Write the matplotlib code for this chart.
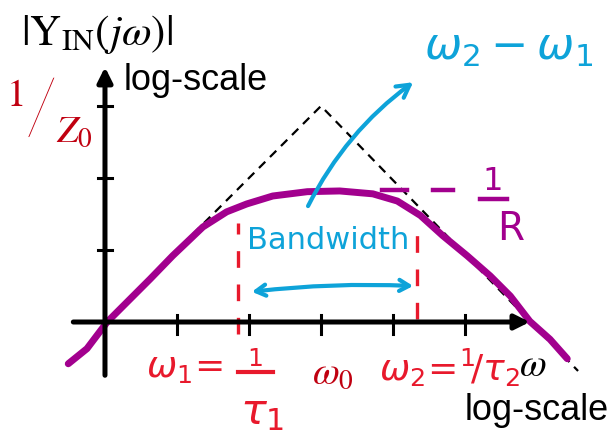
import matplotlib
matplotlib.use("Agg")
from matplotlib import pyplot as plt

# magnitude of the input admittance, log-log, one tick = one unit
curve_x = [-0.51, -0.25, 0.03, 0.31, 0.63, 0.94, 1.14, 1.36, 1.69, 1.97, 2.33,
           2.81, 3.26, 3.72, 4.06, 4.38, 4.69, 5.03, 5.35, 5.63, 5.90, 6.18, 6.42]
curve_y = [-0.58, -0.37, 0.0, 0.28, 0.60, 0.92, 1.11, 1.32, 1.53, 1.64, 1.75,
           1.81, 1.82, 1.78, 1.68, 1.48, 1.20, 0.92, 0.64, 0.36, 0.01, -0.24, -0.51]

# asymptotes meeting at w0, 1/Z0
asym_x = [0, 3, 6.57]
asym_y = [0, 3, -0.68]

x_ticks = [1, 2, 3, 4, 5]
y_ticks = [1, 2, 3]

w1 = 1.85
w2 = 4.33
inv_R = 1.83

purple = '#a2008e'
blue = '#0ea3d9'
red = '#e8192c'
dark_red = '#c00010'

hand = dict(math_fontfamily='dejavusans', ha='center', va='center')
typeset = dict(math_fontfamily='stix', family='STIXGeneral', ha='center',
               va='center')
sans = dict(family='Liberation Sans', ha='center', va='center')

fig = plt.figure(figsize=(6.16, 4.39), dpi=100)
ax = fig.add_axes([0, 0, 1, 1])
ax.set_xlim(-1.458, 7.097)
ax.set_ylim(-1.611, 4.486)
ax.axis('off')

# axes with arrow heads
ax.annotate('', xy=(5.9, 0), xytext=(-0.44, 0),
            arrowprops=dict(arrowstyle='-|>', lw=3.6, color='black',
                            mutation_scale=22, shrinkA=0, shrinkB=0))
ax.annotate('', xy=(0, 3.54), xytext=(0, -0.74),
            arrowprops=dict(arrowstyle='-|>', lw=3.6, color='black',
                            mutation_scale=22, shrinkA=0, shrinkB=0))
for t in x_ticks:
    ax.plot([t, t], [-0.17, 0.1], color='black', lw=2.2)
for t in y_ticks:
    ax.plot([-0.1, 0.1], [t, t], color='black', lw=2.2)

ax.plot(asym_x, asym_y, color='black', lw=1.6, linestyle=(0, (4, 3)))
ax.plot(curve_x, curve_y, color=purple, lw=5, solid_capstyle='round',
        solid_joinstyle='round')

# band edges
for w, top, bot in [(w1, 1.38, -0.17), (w2, 1.32, 0.04)]:
    ax.plot([w, w], [bot, top], color=red, lw=2.4, linestyle=(0, (5, 5)))

# 1/R level
ax.plot([3.85, 4.19], [inv_R, inv_R], color=purple, lw=3.2)
ax.plot([4.56, 4.83], [inv_R, inv_R], color=purple, lw=3.2)
ax.text(5.38, 1.97, '1', color=purple, fontsize=23, **hand)
ax.plot([5.21, 5.58], [1.71, 1.71], color=purple, lw=3.2)
ax.text(5.63, 1.30, 'R', color=purple, fontsize=28, **hand)

# bandwidth arrows
ax.annotate('', xy=(2.04, 0.42), xytext=(4.28, 0.50),
            arrowprops=dict(arrowstyle='<->,head_length=0.7,head_width=0.4',
                            lw=3, color=blue, shrinkA=0, shrinkB=0,
                            connectionstyle='arc3,rad=0.04'))
ax.annotate('', xy=(4.28, 3.33), xytext=(2.82, 1.61),
            arrowprops=dict(arrowstyle='->,head_length=0.9,head_width=0.5',
                            lw=3, color=blue, shrinkA=0, shrinkB=0,
                            connectionstyle='arc3,rad=-0.12'))
ax.text(3.1, 1.15, 'Bandwidth', color=blue, fontsize=22, **hand)
ax.text(5.6, 3.82, r'$\omega_2 - \omega_1$', color=blue, fontsize=32, **hand)

# frequency labels
ax.text(1.1, -0.63, r'$\omega_1\!=$', color=red, fontsize=26, **hand)
ax.text(2.08, -0.5, '1', color=red, fontsize=18, **hand)
ax.plot([1.85, 2.33], [-0.69, -0.69], color=red, lw=3)
ax.text(2.18, -1.24, r'$\tau_1$', color=red, fontsize=31, **hand)
ax.text(3.17, -0.72, r'$\omega_0$', color=dark_red, fontsize=28, **typeset)
ax.text(4.78, -0.63, r'$\omega_2\!=\!{}^1\!/\tau_2$', color=red, fontsize=26,
        **hand)
ax.text(5.94, -0.61, r'$\omega$', color='black', fontsize=28, **typeset)
ax.text(5.99, -1.21, 'log-scale', color='black', fontsize=26, **sans)

# vertical axis labels
ax.text(1.26, 3.37, 'log-scale', color='black', fontsize=26, **sans)
ax.text(-0.11, 4.01, r'$|\mathrm{Y}_{\mathrm{IN}}(j\omega)|$', color='black',
        fontsize=31, **typeset)
ax.text(-1.23, 3.14, '1', color=dark_red, fontsize=28, **typeset)
ax.text(-0.89, 2.92, '/', color=dark_red, fontsize=56, family='Lato',
        fontweight='light', ha='center', va='center')
ax.text(-0.42, 2.64, r'$Z_0$', color=dark_red, fontsize=28, **typeset)

fig.savefig('out.png', dpi=100)
